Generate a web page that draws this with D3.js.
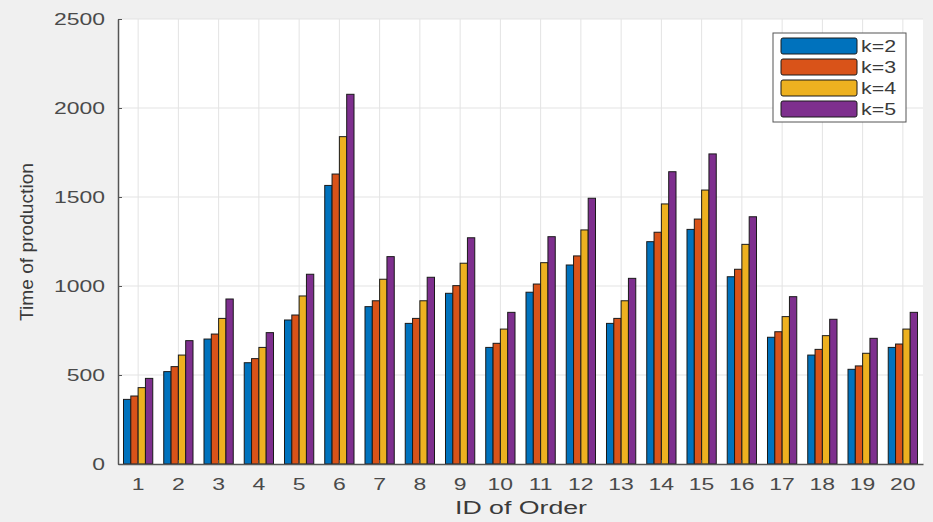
<!DOCTYPE html>
<html>
<head>
<meta charset="utf-8">
<script src="https://cdn.jsdelivr.net/npm/d3@7"></script>
<style>
  body { margin: 0; background: #f0f0f0; }
  svg { display: block; font-family: "Liberation Sans", Arial, sans-serif; }
</style>
</head>
<body>
<div id="chart"></div>
<script>
// Data
const orders = d3.range(1, 21);
const seriesNames = ["k=2", "k=3", "k=4", "k=5"];
const k2 = [363, 519, 702, 569, 809, 1565, 884, 790, 959, 655, 965, 1118, 790, 1249, 1318, 1052, 712, 612, 532, 655];
const k3 = [382, 547, 730, 592, 837, 1629, 917, 818, 1002, 678, 1011, 1169, 818, 1302, 1376, 1094, 743, 644, 551, 674];
const k4 = [429, 612, 818, 655, 944, 1839, 1038, 917, 1128, 758, 1131, 1315, 917, 1461, 1539, 1234, 828, 721, 622, 758];
const k5 = [481, 693, 927, 738, 1066, 2077, 1165, 1049, 1271, 852, 1277, 1493, 1043, 1642, 1742, 1389, 940, 813, 706, 852];
const yTicks = [0, 500, 1000, 1500, 2000, 2500];
const colors = ["#0072BD", "#D95319", "#EDB120", "#7E2F8E"];

const allSeries = [k2, k3, k4, k5];

// Dimensions
const W = 933, H = 522;
const margin = { top: 19, right: 10, bottom: 58, left: 118 };
const width = W - margin.left - margin.right;
const height = H - margin.top - margin.bottom;
const stretch = 1.35; // text in the picture is drawn wide

const svg = d3.select("#chart").append("svg")
    .attr("width", W)
    .attr("height", H);

svg.append("rect")
    .attr("width", W).attr("height", H)
    .attr("fill", "#f0f0f0");

const g = svg.append("g")
    .attr("transform", `translate(${margin.left},${margin.top})`);

// Scales
const x = d3.scaleBand()
    .domain(orders)
    .range([0, width])
    .paddingInner(0.273)
    .paddingOuter(0.1365);

const xSub = d3.scaleBand()
    .domain(seriesNames)
    .range([0, x.bandwidth()]);

const y = d3.scaleLinear()
    .domain([0, 2500])
    .range([height, 0]);

// Plot background
g.append("rect")
    .attr("width", width)
    .attr("height", height)
    .attr("fill", "#ffffff");

// Grid
g.append("g").selectAll("line")
  .data(yTicks.slice(1))
  .join("line")
    .attr("x1", 0).attr("x2", width)
    .attr("y1", d => y(d)).attr("y2", d => y(d))
    .attr("stroke", "#e3e3e3")
    .attr("stroke-width", 1);

g.append("g").selectAll("line")
  .data(orders)
  .join("line")
    .attr("x1", d => x(d) + x.bandwidth() / 2)
    .attr("x2", d => x(d) + x.bandwidth() / 2)
    .attr("y1", 0).attr("y2", height)
    .attr("stroke", "#e3e3e3")
    .attr("stroke-width", 1);

// Bars
const groups = g.append("g").selectAll("g")
  .data(orders)
  .join("g")
    .attr("transform", d => `translate(${x(d)},0)`);

groups.selectAll("rect")
  .data((d, i) => allSeries.map((s, j) => ({ name: seriesNames[j], value: s[i], color: colors[j] })))
  .join("rect")
    .attr("x", d => xSub(d.name))
    .attr("y", d => y(d.value))
    .attr("width", xSub.bandwidth())
    .attr("height", d => y(0) - y(d.value))
    .attr("fill", d => d.color)
    .attr("stroke", "#1a1a1a")
    .attr("stroke-width", 1);

// Axes
const xAxis = g.append("g")
    .attr("transform", `translate(0,${height})`)
    .call(d3.axisBottom(x).tickSizeInner(-4).tickSizeOuter(0).tickPadding(14));

const yAxis = g.append("g")
    .call(d3.axisLeft(y).tickValues(yTicks).tickFormat(d3.format("d"))
      .tickSizeInner(-4).tickSizeOuter(0));

[xAxis, yAxis].forEach(ax => {
  ax.select(".domain").attr("stroke", "#555").attr("stroke-width", 1.5);
  ax.selectAll(".tick line").attr("stroke", "#555");
  ax.selectAll(".tick text")
    .attr("fill", "#4a4a4a")
    .style("font-size", "17px")
    .attr("transform", `scale(${stretch},1)`);
});
yAxis.selectAll(".tick text").attr("x", -13 / stretch);

// Axis labels
svg.append("text")
    .attr("transform", `translate(33,242) rotate(-90)`)
    .attr("text-anchor", "middle")
    .attr("fill", "#3a3a3a")
    .style("font-size", "18px")
    .attr("textLength", 158)
    .attr("lengthAdjust", "spacingAndGlyphs")
    .text("Time of production");

svg.append("text")
    .attr("x", 521)
    .attr("y", 514)
    .attr("text-anchor", "middle")
    .attr("fill", "#3a3a3a")
    .style("font-size", "18px")
    .attr("textLength", 132)
    .attr("lengthAdjust", "spacingAndGlyphs")
    .text("ID of Order");

// Legend
const legend = svg.append("g")
    .attr("transform", "translate(773,33)");

legend.append("rect")
    .attr("width", 133)
    .attr("height", 89)
    .attr("fill", "#ffffff")
    .attr("stroke", "#555")
    .attr("stroke-width", 1);

const items = legend.selectAll("g")
  .data(seriesNames)
  .join("g")
    .attr("transform", (d, i) => `translate(8,${5 + i * 21})`);

items.append("rect")
    .attr("width", 76)
    .attr("height", 16)
    .attr("rx", 2)
    .attr("fill", (d, i) => colors[i])
    .attr("stroke", "#1a1a1a")
    .attr("stroke-width", 1);

items.append("text")
    .attr("x", 80)
    .attr("y", 14)
    .attr("fill", "#3a3a3a")
    .style("font-size", "16px")
    .attr("textLength", 35)
    .attr("lengthAdjust", "spacingAndGlyphs")
    .text(d => d);
</script>
</body>
</html>
